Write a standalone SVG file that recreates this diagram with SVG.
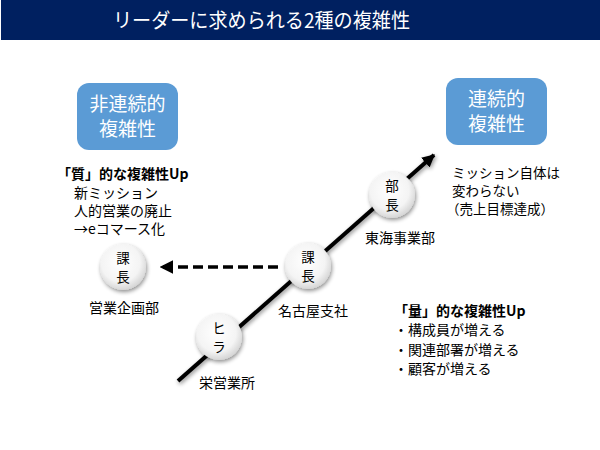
<svg xmlns="http://www.w3.org/2000/svg" width="600" height="450" viewBox="0 0 600 450">
<defs>
<style>
text{font-family:"Noto Sans CJK JP","Noto Sans",sans-serif;fill:#000}
.b{font-size:14px;font-weight:bold}
.l{font-size:14px}
.r{font-size:13.5px}
.box{fill:#5B9BD5}
.bt{font-size:19px;fill:#fff;text-anchor:middle}
.ct{font-size:13.5px;text-anchor:middle}
.lab{font-size:14px;text-anchor:middle}
</style>
<radialGradient id="cg" cx="0.45" cy="0.4" r="0.6">
<stop offset="0" stop-color="#ffffff"/>
<stop offset="0.7" stop-color="#f4f4f4"/>
<stop offset="1" stop-color="#d6d6d6"/>
</radialGradient>
<filter id="sh" x="-40%" y="-40%" width="180%" height="180%">
<feGaussianBlur in="SourceAlpha" stdDeviation="2"/>
<feOffset dx="1" dy="2" result="o"/>
<feComponentTransfer><feFuncA type="linear" slope="0.45"/></feComponentTransfer>
<feMerge><feMergeNode/><feMergeNode in="SourceGraphic"/></feMerge>
</filter>
<marker id="ah" viewBox="0 0 10 10" refX="9" refY="5" markerWidth="3.2" markerHeight="3.2" orient="auto" markerUnits="strokeWidth">
<path d="M0,0 L10,5 L0,10 Z" fill="#000"/>
</marker>
<marker id="ah2" viewBox="0 0 10 10" refX="9" refY="5" markerWidth="3.8" markerHeight="3.8" orient="auto" markerUnits="strokeWidth">
<path d="M0,0 L10,5 L0,10 Z" fill="#000"/>
</marker>
</defs>
<g id="title">
<rect x="1" y="0" width="599" height="40" fill="#002060"/>
<text x="113" y="28" style="font-size:20px;fill:#fff" textLength="297" lengthAdjust="spacingAndGlyphs">リーダーに求められる2種の複雑性</text>
</g>
<g id="connectors">
<line x1="178" y1="381" x2="434" y2="155" stroke="#000" stroke-width="4" marker-end="url(#ah)" filter="url(#sh)"/>
<line x1="278" y1="267" x2="161" y2="267" stroke="#000" stroke-width="3.5" stroke-dasharray="10,5" marker-end="url(#ah2)"/>
</g>
<g id="box-left">
<rect class="box" x="77" y="83" width="101" height="67" rx="12"/>
<text class="bt" x="127.5" y="111">非連続的</text>
<text class="bt" x="127.5" y="136">複雑性</text>
</g>
<g id="box-right">
<rect class="box" x="446" y="78" width="101" height="67" rx="12"/>
<text class="bt" x="496.5" y="106">連続的</text>
<text class="bt" x="496.5" y="131">複雑性</text>
</g>
<g id="note-left">
<text class="b" x="57" y="179">「質」的な複雑性Up</text>
<text class="l" x="74" y="198">新ミッション</text>
<text class="l" x="74" y="216">人的営業の廃止</text>
<text class="l" x="74" y="234">→eコマース化</text>
</g>
<g id="note-right">
<text class="r" x="452" y="178">ミッション自体は</text>
<text class="r" x="452" y="196">変わらない</text>
<text class="r" x="446" y="214">（売上目標達成）</text>
</g>
<g id="note-bottom">
<text class="b" x="394" y="316">「量」的な複雑性Up</text>
<text class="l" x="394" y="335">・構成員が増える</text>
<text class="l" x="394" y="355">・関連部署が増える</text>
<text class="l" x="394" y="374">・顧客が増える</text>
</g>
<g id="node-kacho-left">
<circle cx="123" cy="267" r="23" fill="url(#cg)" filter="url(#sh)"/>
<text class="ct" x="123" y="263">課</text>
<text class="ct" x="123" y="282">長</text>
<text class="lab" x="124" y="313">営業企画部</text>
</g>
<g id="node-kacho">
<circle cx="308" cy="266" r="23" fill="url(#cg)" filter="url(#sh)"/>
<text class="ct" x="308" y="262">課</text>
<text class="ct" x="308" y="281">長</text>
<text class="lab" x="313" y="316">名古屋支社</text>
</g>
<g id="node-hira">
<circle cx="219" cy="337" r="23" fill="url(#cg)" filter="url(#sh)"/>
<text class="ct" x="219" y="333">ヒ</text>
<text class="ct" x="219" y="352">ラ</text>
<text class="lab" x="227" y="388">栄営業所</text>
</g>
<g id="node-bucho">
<circle cx="392" cy="195" r="23" fill="url(#cg)" filter="url(#sh)"/>
<text class="ct" x="392" y="191">部</text>
<text class="ct" x="392" y="210">長</text>
<text class="lab" x="400" y="243">東海事業部</text>
</g>
</svg>
